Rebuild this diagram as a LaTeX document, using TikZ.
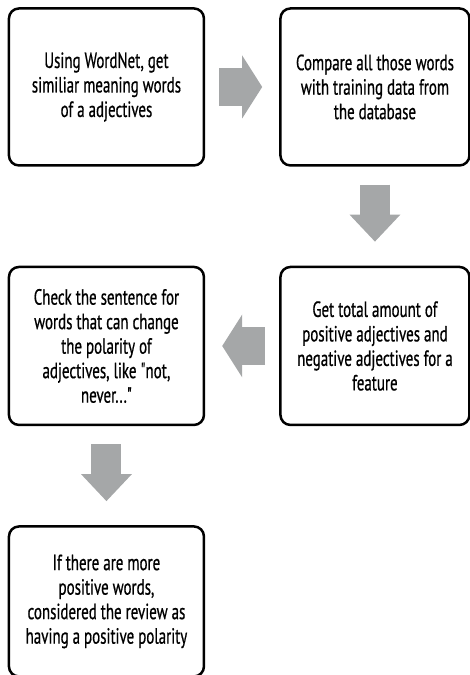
\documentclass[tikz,border=0pt]{standalone}
\usepackage{fontspec}
\setmainfont{PT Sans}[FakeStretch=0.68,FakeBold=0.6]
\newfontfamily\straightquote{PT Sans}[FakeStretch=0.68,FakeBold=0.6,Ligatures=TeXOff]
\newcommand\sq{{\straightquote"}}
\usepackage{tikz}
\usetikzlibrary{
  arrows.meta,
  chains,
  matrix,
  scopes
}
\definecolor{arrowgray}{RGB}{165,167,168}

\begin{document}
\begin{tikzpicture}[
      process/.style={
         rectangle,
         rounded corners=10pt,
         line width=2.5pt,
         draw=black,
         fill=white,
         align=center,
         inner sep=2pt,
         font=\fontsize{22}{24.5}\selectfont,
         %text height=1.5ex,
         %text depth=.25ex
      },
      left box/.style={process,minimum width=195pt},
      right box/.style={process,minimum width=189pt},
      hfat/.style={
         line width=38pt,draw=arrowgray,
         -{Triangle[width=62pt,length=20pt]},
         shorten <=14pt,shorten >=17pt
      },
      vfat/.style={
         line width=30pt,draw=arrowgray,
         -{Triangle[width=49pt,length=27pt]},
         shorten <=18pt,shorten >=24pt
      }
    ]
    \useasboundingbox (0,0) rectangle (470pt,-675pt);
    \matrix[column sep=74pt, row sep=99pt, inner sep=0pt, anchor=north west] at (7.5pt,-7pt) {
\node (n11) [left box, minimum height=157pt] {Using WordNet, get\\similiar meaning words\\of a adjectives}; & \node (n12) [right box, minimum height=157pt] {Compare all those words\\with training data from\\the database};\\
\node (n21) [left box, minimum height=158pt] {Check the sentence for\\words that can change\\the polarity of\\adjectives, like \sq not,\\never...\sq}; & \node (n22) [right box, minimum height=158pt] {Get total amount of\\positive adjectives and\\negative adjectives for a\\feature};\\
\node (n31) [left box, minimum height=150pt] {If there are more\\positive words,\\considered the review as\\having a positive polarity}; & \\
    };
  { [start chain]
       \chainin (n11);
       \chainin (n12)    [join=by hfat];
  }
  { [start chain]
       \chainin (n12);
       \chainin (n22)    [join=by vfat];
  }
  { [start chain]
       \chainin (n22);
       \chainin (n21)    [join=by hfat];
  }
  { [start chain]
       \chainin (n21);
       \chainin (n31)    [join=by vfat];
  }
\end{tikzpicture}
\end{document}
